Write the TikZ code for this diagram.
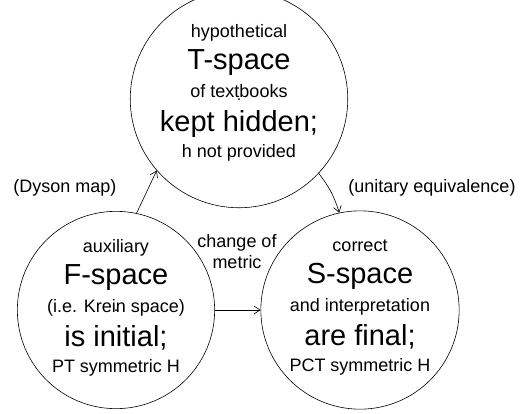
\documentclass[tikz,border=0pt]{standalone}
\usepackage{fontspec}
\setmainfont{Liberation Sans}
\usetikzlibrary{arrows.meta}

\newcommand{\bigline}[1]{{\fontsize{29}{29}\selectfont #1}}

\begin{document}
\begin{tikzpicture}[
    x=1pt, y=-1pt,
    space/.style={circle, draw, line width=0.6pt, minimum size=194pt, inner sep=0pt, align=center, text depth=8pt, font=\fontsize{18}{26}\selectfont},
    note/.style={align=center, font=\fontsize{18}{21}\selectfont},
    arrow/.style={-{Straight Barb[length=6pt,width=8pt]}, line width=0.6pt},
]
\useasboundingbox (0,0) rectangle (520,413);

% Spaces
\node[space, text depth=16pt] (T) at (239, 99) {hypothetical\\[6pt] \bigline{T-space}\\[2pt] of textbooks\\[8pt] \bigline{kept hidden;}\\ h not provided};
\node[space] (F) at (116, 310) {auxiliary\\[6pt] \bigline{F-space}\\[2pt] (i.e. Krein space)\\[8pt] \bigline{is initial;}\\ PT symmetric H};
\node[space] (S) at (360, 310) {correct\\[6pt] \bigline{S-space}\\[2pt] and interpretation\\[8pt] \bigline{are final;}\\ PCT symmetric H};

\fill (T.center) circle (1pt);
\fill (F.center) circle (1pt);
\fill (S.center) circle (1pt);

% Maps
\node[note] (dyson) at (65, 188) {(Dyson map)};
\node[note] (unitary) at (432, 188) {(unitary equivalence)};
\node[note] (metric) at (237, 252) {change of\\metric};

\draw[arrow] (F.78) -- (T.221);
\draw[arrow] (T.317) to[bend left=10] (S.102);
\draw[arrow] (F.east) -- (S.west);

\end{tikzpicture}
\end{document}
